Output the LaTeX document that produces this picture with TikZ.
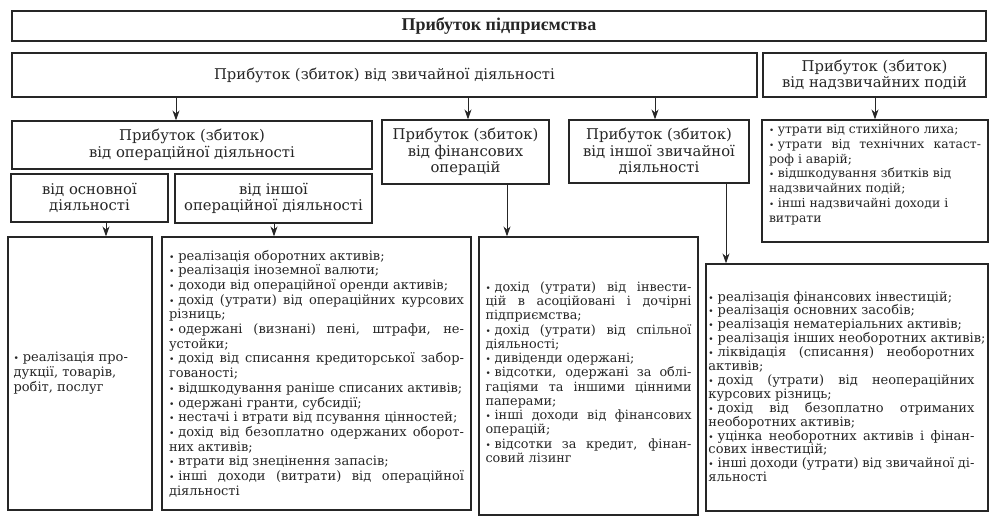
\documentclass[tikz,border=0pt]{standalone}
\usepackage{fontspec}
\setmainfont{DejaVu Serif}
\newfontfamily\titlefont{Liberation Serif}
\usetikzlibrary{arrows.meta}
\newlength\lw
\newcommand\jl[1]{\makebox[\lw][s]{#1}}
\newcommand\bl{{\scalebox{0.7}{\textbullet}}\hspace{0.3em}}
\colorlet{ink}{black!85}
\tikzset{
  bx/.style={draw=ink, line width=1.2pt, inner sep=0pt, rectangle},
  lab/.style={align=center, font=\fontsize{14.8}{16.5}\selectfont, text=ink, inner sep=0pt},
  lst/.style={align=left, text=ink, inner sep=0pt},
  arr/.style={draw=ink, line width=1pt, -{Stealth[length=10pt,width=7pt]}}
}
\begin{document}
\begin{tikzpicture}[x=1pt,y=-1pt]
\useasboundingbox[fill=white] (0,0) rectangle (997,522);
% boxes
\node[bx, minimum width=974pt, minimum height=30pt] (title) at (499,26) {};
\node[font=\titlefont\bfseries\fontsize{18}{20}\selectfont, text=ink] at (title.center) {Прибуток підприємства};
\node[bx, minimum width=745pt, minimum height=44pt, lab] (ord) at (384.5,75) {Прибуток (збиток) від звичайної діяльності};
\node[bx, minimum width=223pt, minimum height=44pt, lab] (ext) at (874.5,75) {Прибуток (збиток)\\від надзвичайних подій};
\node[bx, minimum width=360pt, minimum height=48pt, lab] (op) at (192,145) {Прибуток (збиток)\\від операційної діяльності};
\node[bx, minimum width=167pt, minimum height=64pt, lab] (fin) at (465.5,152) {Прибуток (збиток)\\від фінансових\\операцій};
\node[bx, minimum width=180pt, minimum height=63pt, lab] (oth) at (659,151.5) {Прибуток (збиток)\\від іншої звичайної\\діяльності};
\node[bx, minimum width=226pt, minimum height=122pt] (exl) at (875,181) {};
\node[bx, minimum width=157pt, minimum height=48pt, lab] (mn) at (89.5,198) {від основної\\діяльності};
\node[bx, minimum width=197pt, minimum height=49pt, lab] (oo) at (273.5,198.5) {від іншої\\операційної діяльності};
\node[bx, minimum width=144pt, minimum height=273pt] (L1) at (80,373.5) {};
\node[bx, minimum width=309pt, minimum height=273pt] (L2) at (316.5,373.5) {};
\node[bx, minimum width=219pt, minimum height=278pt] (L3) at (588.5,376) {};
\node[bx, minimum width=282pt, minimum height=247pt] (L4) at (847,387.5) {};
% list texts
\node[lst, font=\fontsize{13}{15}\selectfont, anchor=west] (t1) at ([xshift=6pt]L1.west) {\bl реалізація про-\\дукції, товарів,\\робіт, послуг};
\setlength\lw{295pt}
\node[lst, font=\fontsize{13}{14.7}\selectfont] (t2) at (L2.center) {%
\bl реалізація оборотних активів;\\
\bl реалізація іноземної валюти;\\
\bl доходи від операційної оренди активів;\\
\jl{\bl дохід (утрати) від операційних курсових}\\
різниць;\\
\jl{\bl одержані (визнані) пені, штрафи, не-}\\
устойки;\\
\jl{\bl дохід від списання кредиторської забор-}\\
гованості;\\
\bl відшкодування раніше списаних активів;\\
\bl одержані гранти, субсидії;\\
\bl нестачі і втрати від псування цінностей;\\
\jl{\bl дохід від безоплатно одержаних оборот-}\\
них активів;\\
\bl втрати від знецінення запасів;\\
\jl{\bl інші доходи (витрати) від операційної}\\
діяльності};
\setlength\lw{206pt}
\node[lst, font=\fontsize{12.8}{14.25}\selectfont] (t3) at ([yshift=4pt]L3.center) {%
\jl{\bl дохід (утрати) від інвести-}\\
\jl{цій в асоційовані і дочірні}\\
підприємства;\\
\jl{\bl дохід (утрати) від спільної}\\
діяльності;\\
\bl дивіденди одержані;\\
\jl{\bl відсотки, одержані за облі-}\\
\jl{гаціями та іншими цінними}\\
паперами;\\
\jl{\bl інші доходи від фінансових}\\
операцій;\\
\jl{\bl відсотки за кредит, фінан-}\\
совий лізинг};
\setlength\lw{266pt}
\node[lst, font=\fontsize{13}{13.9}\selectfont] (t4) at ([yshift=1pt]L4.center) {%
\bl реалізація фінансових інвестицій;\\
\bl реалізація основних засобів;\\
\bl реалізація нематеріальних активів;\\
\bl реалізація інших необоротних активів;\\
\jl{\bl ліквідація (списання) необоротних}\\
активів;\\
\jl{\bl дохід (утрати) від неопераційних}\\
курсових різниць;\\
\jl{\bl дохід від безоплатно отриманих}\\
необоротних активів;\\
\jl{\bl уцінка необоротних активів і фінан-}\\
сових інвестицій;\\
\jl{\bl інші доходи (утрати) від звичайної ді-}\\
яльності};
\setlength\lw{212pt}
\node[lst, font=\fontsize{12.4}{14.7}\selectfont, anchor=north] (t5) at ([yshift=-5pt]exl.north) {%
\bl утрати від стихійного лиха;\\
\jl{\bl утрати від технічних катаст-}\\
роф і аварій;\\
\bl відшкодування збитків від\\
надзвичайних подій;\\
\bl інші надзвичайні доходи і\\
витрати};
% arrows
\draw[arr] (ord.south -| 176,0) -- (op.north -| 176,0);
\draw[arr] (ord.south -| 468,0) -- (fin.north -| 468,0);
\draw[arr] (ord.south -| 655,0) -- (oth.north -| 655,0);
\draw[arr] (ext.south -| 875,0) -- (exl.north -| 875,0);
\draw[arr] (mn.south -| 106,0) -- (L1.north -| 106,0);
\draw[arr] (oo.south -| 274,0) -- (L2.north -| 274,0);
\draw[arr] (fin.south -| 507,0) -- (L3.north -| 507,0);
\draw[arr] (oth.south -| 726,0) -- (L4.north -| 726,0);
\end{tikzpicture}
\end{document}
